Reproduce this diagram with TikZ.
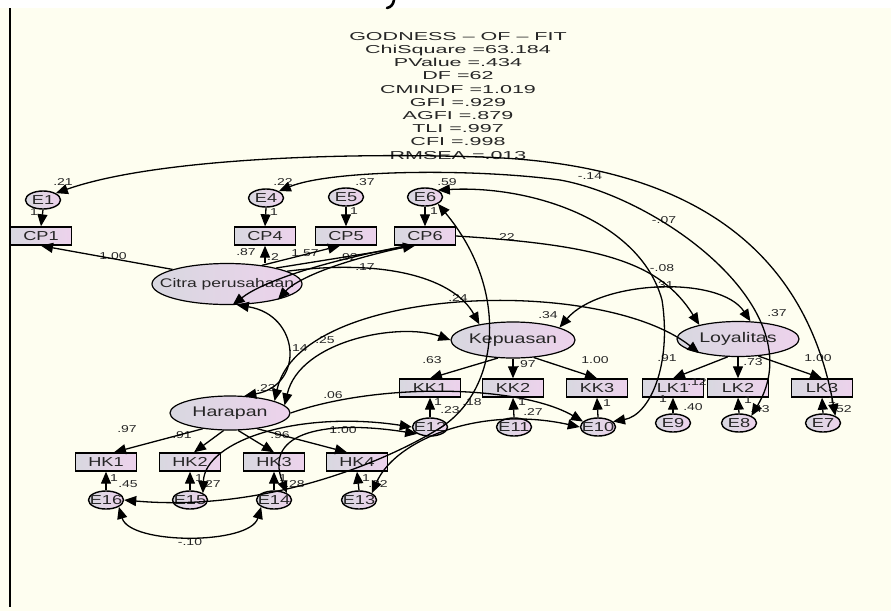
\documentclass[tikz,border=0pt]{standalone}
\usepackage{fontspec}
\setmainfont[FakeStretch=1.4]{Liberation Sans}
\newfontfamily\gofont[FakeStretch=1.87,Ligatures=TeX]{Liberation Sans}
\usetikzlibrary{positioning,calc,arrows.meta,shapes.geometric}
\definecolor{paper}{HTML}{FEFEF0}
\definecolor{shadeL}{HTML}{D8D8E0}
\definecolor{shadeR}{HTML}{EDD2EC}
\definecolor{txt}{HTML}{262626}
\newcommand{\sz}[1]{\fontsize{#1}{#1}\selectfont}
\newcommand{\nb}[1]{\makebox[0pt]{#1}}

\begin{document}
\begin{tikzpicture}[x=1pt, y=-1pt, >={Triangle[length=12pt,width=10pt]},
  latent/.style={ellipse, draw, line width=1.2pt, left color=shadeL, right color=shadeR,
    inner sep=0pt, font=\sz{14}, text=txt},
  obs/.style={rectangle, draw, line width=1.4pt, left color=shadeL, right color=shadeR,
    minimum width=61pt, minimum height=18pt, inner sep=0pt, font=\sz{13}, text=txt},
  err/.style={ellipse, draw, line width=1.4pt, left color=shadeL, right color=shadeR,
    minimum width=35pt, minimum height=18pt, inner sep=0pt, font=\sz{13}, text=txt},
  est/.style={font=\sz{10}, text=txt, inner sep=0pt},
  reg/.style={->, line width=1.3pt},
  cov/.style={<->, line width=1.3pt}]
  \useasboundingbox (0,0) rectangle (891,611);
  \fill[white] (0,0) rectangle (891,8);
  \fill[paper] (0,8) rectangle (891,611);
  \draw[line width=1.3pt] (10,8) -- (10,607);
  \draw[line width=2.6pt, line cap=round] (394,0) .. controls (393,5) and (391,7) .. (387,8);

  % fit summary
  \node[font=\gofont\fontsize{11.5}{13.2}\selectfont, text=txt, align=center, anchor=north,
    inner sep=0pt] (gof) at (458,32) {GODNESS -- OF -- FIT\\ChiSquare =63.184\\PValue =.434\\DF =62\\
    CMINDF =1.019\\GFI =.929\\AGFI =.879\\TLI =.997\\CFI =.998\\RMSEA =.013};

  % latent variables
  \node[latent, font=\sz{12.5}, minimum width=150pt, minimum height=41pt] (Citra) at (227,284) {\nb{Citra perusahaan}};
  \node[latent, minimum width=120pt, minimum height=34pt] (Harapan) at (230,413) {\nb{Harapan}};
  \node[latent, minimum width=124pt, minimum height=36pt] (Kepuasan) at (513,340) {\nb{Kepuasan}};
  \node[latent, minimum width=122pt, minimum height=35pt] (Loyalitas) at (738,339) {\nb{Loyalitas}};

  % indicators
  \foreach \n/\x in {CP1/41,CP4/265,CP5/346,CP6/425}
    \node[obs] (\n) at (\x,236) {\n};
  \foreach \n/\x in {KK1/430,KK2/513,KK3/597,LK1/673,LK2/738,LK3/822}
    \node[obs] (\n) at (\x,388) {\n};
  \foreach \n/\x in {HK1/106,HK2/190,HK3/274,HK4/357}
    \node[obs] (\n) at (\x,462) {\n};

  % error terms
  \foreach \n/\x/\y in {E1/43/200,E4/266/198,E5/346/197,E6/425/197,
      E12/430/427,E11/514/427,E10/598/427,E9/673/423,E8/739/423,E7/823/423,
      E16/106/500,E15/190/500,E14/274/500,E13/359/500}
    \node[err] (\n) at (\x,\y) {\nb{\n}};

  % estimates
  \foreach \t/\x/\y in {.21/63/182,.22/283/182,.37/365/182,.59/447/182,
      -.14/590/176,-.07/664/220,-.08/662/268,.31/664/285,.22/505/237,
      1/34/212,1/274/212,1/354/211,1/434/211,
      1.00/113/256,.87/246/252,.2/273/257,1.57/305/253,.92/348/257,.17/365/267,
      .24/458/298,.34/548/315,.37/777/313,.14/298/348,.25/325/340,.23/266/388,
      .63/432/360,.97/526/364,1.00/595/360,.91/667/358,.73/753/362,1.00/818/358,
      .97/127/429,.91/182/435,.96/280/435,1.00/343/430,.06/333/395,
      1/438/402,.23/450/410,.18/472/402,1/522/402,.27/533/412,1/607/403,
      1/663/399,.40/693/407,.12/697/382,1/748/400,.43/760/409,1/832/400,.52/842/409,
      1/114/478,.45/128/484,1/199/478,.27/211/484,1/283/478,.28/295/484,
      1/366/478,.22/378/484,-.10/190/542}
    \node[est] at (\x,\y) {\t};

  % error paths
  \foreach \e/\i in {E1/CP1,E4/CP4,E5/CP5,E6/CP6}
    \draw[reg] (\e.south) -- (\i.north);
  \foreach \e/\i in {E12/KK1,E11/KK2,E10/KK3,E9/LK1,E8/LK2,E7/LK3,
      E16/HK1,E15/HK2,E14/HK3,E13/HK4}
    \draw[reg] (\e.north) -- (\i.south);

  % loadings
  \draw[reg] (Citra.165) -- (CP1.south);
  \draw[reg] (CP4.south |- Citra.north) -- (CP4.south);
  \draw[reg] (Citra.28) -- ($(CP5.south)+(-6,0)$);
  \draw[reg] (Citra.18) -- ($(CP6.south)+(-10,0)$);
  \draw[reg] (Kepuasan.-130) -- (KK1.north);
  \draw[reg] (Kepuasan.south) -- (KK2.north);
  \draw[reg] (Kepuasan.-40) -- (KK3.north);
  \draw[reg] (Loyalitas.-120) -- (LK1.north);
  \draw[reg] (Loyalitas.south) -- (LK2.north);
  \draw[reg] (Loyalitas.-40) -- (LK3.north);
  \draw[reg] (Harapan.-150) -- ($(HK1.north)+(8,0)$);
  \draw[reg] (Harapan.-110) -- ($(HK2.north)+(4,0)$);
  \draw[reg] (Harapan.-65) -- (HK3.north);
  \draw[reg] (Harapan.-30) -- ($(HK4.north)+(-10,0)$);

  % structural paths
  \draw[reg] ($(CP6.south)+(-18,0)$) .. controls (320,262) and (262,282) .. (Citra.-75);
  \draw[reg] ($(CP6.south)+(-14,0)$) .. controls (320,265) and (292,284) .. (Citra.-17);
  \draw[reg] (Citra.12) .. controls (390,258) and (455,280) .. (Kepuasan.155);
  \draw[reg] (CP6.east) .. controls (600,245) and (660,262) .. (Loyalitas.160);
  \draw[cov] (Kepuasan.15) .. controls (600,280) and (720,275) .. (Loyalitas.55);
  \draw[cov] (Harapan.8) .. controls (300,340) and (400,322) .. (Kepuasan.west);
  \draw[cov] (Harapan.15) .. controls (300,285) and (600,275) .. (Loyalitas.-160);
  \draw[cov] (Citra.-65) .. controls (300,315) and (305,385) .. (Harapan.50);
  \draw[reg] (Harapan.east) .. controls (380,382) and (520,385) .. (E10.160);

  % error covariances
  \draw[cov] (E1.north east) .. controls (150,160) and (330,152) .. (480,157)
    .. controls (650,162) and (800,220) .. (E7.30);
  \draw[cov] (E4.north east) .. controls (330,170) and (470,168) .. (560,180)
    .. controls (660,198) and (815,310) .. (E8.30);
  \draw[cov] (E6.north east) .. controls (530,185) and (640,220) .. (662,300)
    .. controls (672,365) and (650,415) .. (E10.20);
  \draw[cov] (E6.south east) .. controls (510,290) and (500,390) .. (440,428)
    .. controls (380,465) and (260,512) .. (E16.east);
  \draw[cov] (E13.north east) .. controls (395,440) and (480,405) .. (E10.west);
  \draw[cov] (E15.north east) .. controls (205,440) and (300,410) .. (E12.west);
  \draw[cov] (E14.north east) .. controls (262,430) and (330,420) .. (E12.south west);
  \draw[cov] (E16.south east) .. controls (130,545) and (250,545) .. (E14.south west);
\end{tikzpicture}
\end{document}
